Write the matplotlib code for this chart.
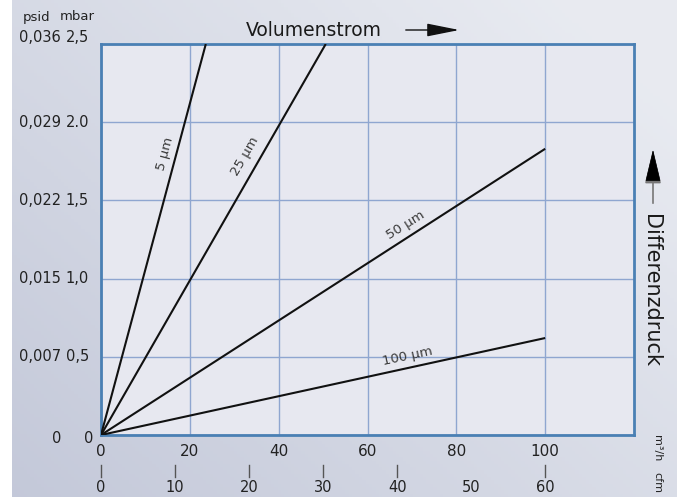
import matplotlib
matplotlib.use("Agg")
import matplotlib.pyplot as plt
import numpy as np
from matplotlib.transforms import blended_transform_factory

# ---------------- data ----------------
flow_5 = [0, 23.6]
dp_5 = [0, 2.5]
flow_25 = [0, 50.6]
dp_25 = [0, 2.5]
flow_50 = [0, 100]
dp_50 = [0, 1.83]
flow_100 = [0, 100]
dp_100 = [0, 0.62]

series_labels = ["5 µm", "25 µm", "50 µm", "100 µm"]
label_pos_x = [14.5, 32.4, 68.5, 69.0]
label_pos_y = [1.80, 1.78, 1.34, 0.50]
label_rot = [75, 60, 32, 12]

x_ticks = [0, 20, 40, 60, 80, 100]
x_tick_labels = ["0", "20", "40", "60", "80", "100"]
mbar_ticks = [0, 0.5, 1.0, 1.5, 2.0, 2.5]
mbar_labels = ["0", "0,5", "1,0", "1,5", "2.0", "2,5"]
psid_labels = ["0", "0,007", "0,015", "0,022", "0,029", "0,036"]
cfm_labels = ["0", "10", "20", "30", "40", "50", "60"]
cfm_pos = [0, 16.67, 33.33, 50.0, 66.67, 83.33, 100.0]   # position on m3/h axis
cfm_marks = [0, 16.67, 33.33, 50.0, 66.67, 100.0]

W, H = 677, 497
plt.rcParams['font.family'] = ['DejaVu Sans']

fig = plt.figure(figsize=(W / 100, H / 100), dpi=100)

def fx(px):
    return px / W

def fy(py):
    return 1 - py / H

# background gradient
bg = fig.add_axes([0, 0, 1, 1], zorder=-10)
gx = np.linspace(0, 1, 200)
gy = np.linspace(0, 1, 150)
GX, GY = np.meshgrid(gx, gy)
t = np.clip(0.55 * GX + 0.45 * (1 - GY) + 0.1, 0, 1)  # GY=0 top
c_dark = np.array([0.75, 0.77, 0.84])
c_light = np.array([0.91, 0.92, 0.945])
img = c_dark[None, None, :] * (1 - t[..., None]) + c_light[None, None, :] * t[..., None]
bg.imshow(img, aspect='auto', extent=[0, 1, 0, 1], origin='upper')
bg.axvspan(0, 12 / W, color='white', lw=0)
bg.set_xlim(0, 1)
bg.set_ylim(0, 1)
bg.axis('off')

# main axes
ax = fig.add_axes([fx(101), fy(435), 533 / W, 391 / H])
ax.set_facecolor('#e7e8f0')
ax.set_xlim(0, 120)
ax.set_ylim(0, 2.5)
ax.set_xticks(x_ticks)
ax.set_yticks(mbar_ticks)
ax.grid(True, color='#8fa6d0', lw=1.0)
ax.tick_params(length=0, labelbottom=False, labelleft=False)
for s in ax.spines.values():
    s.set_color('#4a80b4')
    s.set_linewidth(2.0)

for fl, dp in [(flow_5, dp_5), (flow_25, dp_25), (flow_50, dp_50), (flow_100, dp_100)]:
    ax.plot(fl, dp, color='#111111', lw=1.5, solid_capstyle='butt', clip_on=True, zorder=3)

for lab, lx, ly, rot in zip(series_labels, label_pos_x, label_pos_y, label_rot):
    ax.text(lx, ly, lab, rotation=rot, ha='center', va='center', fontsize=9.5,
            color='#3a3a3a', rotation_mode='anchor', zorder=4)

# y labels (two columns)
ty = blended_transform_factory(fig.transFigure, ax.transData)
for v, ml, pl in zip(mbar_ticks, mbar_labels, psid_labels):
    dy = 0.04 if v == 2.5 else (-0.02 if v == 0 else 0)
    ax.text(fx(93 if v == 0 else 89), v + dy, ml, transform=ty, ha='right', va='center',
            fontsize=10.5, color='#222222', clip_on=False)
    ax.text(fx(61), v + dy, pl, transform=ty, ha='right', va='center',
            fontsize=10.5, color='#222222', clip_on=False)

fig.text(fx(37), fy(17), "psid", ha='center', va='center', fontsize=9.5, color='#222222')
fig.text(fx(77), fy(17), "mbar", ha='center', va='center', fontsize=9.5, color='#222222')

# x labels
tx = blended_transform_factory(ax.transData, fig.transFigure)
for v, l in zip(x_ticks, x_tick_labels):
    ax.text(v, fy(451), l, transform=tx, ha='center', va='center', fontsize=11,
            color='#222222', clip_on=False)

for v in cfm_marks:
    ax.plot([v, v], [fy(465), fy(477)], transform=tx, color='#555555', lw=1.0, clip_on=False)
for v, l in zip(cfm_pos, cfm_labels):
    ax.text(v, fy(488), l, transform=tx, ha='center', va='center', fontsize=10.5,
            color='#222222', clip_on=False)

fig.text(fx(657), fy(448), "m³/h", rotation=-90, ha='center', va='center', fontsize=8, color='#222222')
fig.text(fx(657), fy(482), "cfm", rotation=-90, ha='center', va='center', fontsize=8, color='#222222')

# titles with arrows
fig.text(fx(314), fy(31), "Volumenstrom", ha='center', va='center', fontsize=13.5, color='#1a1a1a')
fig.patches.append(matplotlib.patches.FancyArrowPatch(
    (fx(403), fy(30)), (fx(462), fy(30)), transform=fig.transFigure,
    arrowstyle='-|>,head_length=20,head_width=4', color='#111111', lw=1.0,
    mutation_scale=1))

fig.text(fx(651), fy(290), "Differenzdruck", rotation=-90, ha='center', va='center',
         fontsize=15, color='#1a1a1a')
fig.patches.append(matplotlib.patches.FancyArrowPatch(
    (fx(653), fy(206)), (fx(653), fy(147)), transform=fig.transFigure,
    arrowstyle='-|>,head_length=21,head_width=5', color='#777777', lw=1.2,
    mutation_scale=1, zorder=5))
# black head overlay
fig.patches.append(matplotlib.patches.FancyArrowPatch(
    (fx(653), fy(175)), (fx(653), fy(147)), transform=fig.transFigure,
    arrowstyle='-|>,head_length=21,head_width=5', color='#000000', lw=0.5,
    mutation_scale=1, zorder=6))

fig.savefig("out.png", dpi=100)
